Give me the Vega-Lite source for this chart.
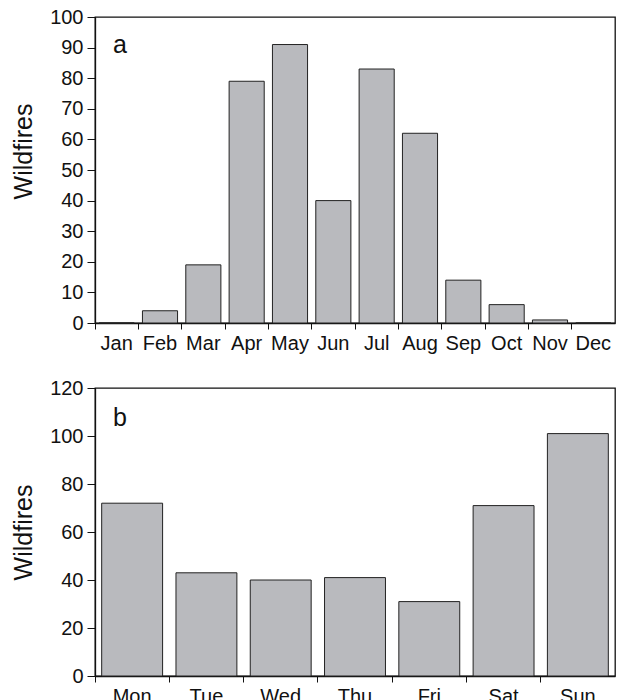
{
  "$schema": "https://vega.github.io/schema/vega-lite/v6.json",
  "padding": {"left": 10, "top": 6, "right": 5, "bottom": 0},
  "spacing": 23,
  "config": {
    "font": "Liberation Sans",
    "view": {"stroke": "#111111", "strokeWidth": 1.3},
    "axis": {
      "domainColor": "#111111", "domainWidth": 1.3,
      "tickColor": "#111111", "tickWidth": 1,
      "labelColor": "#111111", "labelFontSize": 20, "labelFont": "Liberation Sans",
      "titleColor": "#111111", "titleFontSize": 25, "titleFontWeight": "normal", "titleFont": "Liberation Sans",
      "grid": false
    },
    "axisY": {"tickSize": 8, "labelPadding": 4, "titlePadding": 13},
    "axisX": {"tickSize": 6, "labelPadding": 4, "labelAngle": 0, "bandPosition": 0, "title": null},
    "title": {"anchor": "start", "frame": "group", "fontSize": 25, "fontWeight": "normal", "color": "#111111", "font": "Liberation Sans", "baseline": "alphabetic", "offset": 0, "dx": 18}
  },
  "datasets": {
    "months": [
      {"month": "Jan", "fires": 0},
      {"month": "Feb", "fires": 4},
      {"month": "Mar", "fires": 19},
      {"month": "Apr", "fires": 79},
      {"month": "May", "fires": 91},
      {"month": "Jun", "fires": 40},
      {"month": "Jul", "fires": 83},
      {"month": "Aug", "fires": 62},
      {"month": "Sep", "fires": 14},
      {"month": "Oct", "fires": 6},
      {"month": "Nov", "fires": 1},
      {"month": "Dec", "fires": 0}
    ],
    "days": [
      {"day": "Mon", "fires": 72},
      {"day": "Tue", "fires": 43},
      {"day": "Wed", "fires": 40},
      {"day": "Thu", "fires": 41},
      {"day": "Fri", "fires": 31},
      {"day": "Sat", "fires": 71},
      {"day": "Sun", "fires": 101}
    ]
  },
  "vconcat": [
    {
      "width": 520,
      "height": 306,
      "title": {"text": "a", "dy": 55},
      "data": {"name": "months"},
      "mark": {"type": "bar", "width": {"band": 0.81}, "fill": "#b9babe", "stroke": "#222222", "strokeWidth": 1},
      "encoding": {
        "x": {
          "field": "month", "type": "nominal",
          "scale": {"domain": ["Jan","Feb","Mar","Apr","May","Jun","Jul","Aug","Sep","Oct","Nov","Dec"], "paddingInner": 0, "paddingOuter": 0},
          "axis": {"title": null}
        },
        "y": {
          "field": "fires", "type": "quantitative",
          "scale": {"domain": [0, 100], "nice": false},
          "axis": {"title": "Wildfires", "values": [0,10,20,30,40,50,60,70,80,90,100], "labelOverlap": false, "titleY": 134}
        }
      }
    },
    {
      "width": 520,
      "height": 288,
      "title": {"text": "b", "dy": 57},
      "data": {"name": "days"},
      "mark": {"type": "bar", "width": {"band": 0.82}, "fill": "#b9babe", "stroke": "#222222", "strokeWidth": 1},
      "encoding": {
        "x": {
          "field": "day", "type": "nominal",
          "scale": {"domain": ["Mon","Tue","Wed","Thu","Fri","Sat","Sun"], "paddingInner": 0, "paddingOuter": 0},
          "axis": {"title": null}
        },
        "y": {
          "field": "fires", "type": "quantitative",
          "scale": {"domain": [0, 120], "nice": false},
          "axis": {"title": "Wildfires", "labelOverlap": false}
        }
      }
    }
  ]
}
